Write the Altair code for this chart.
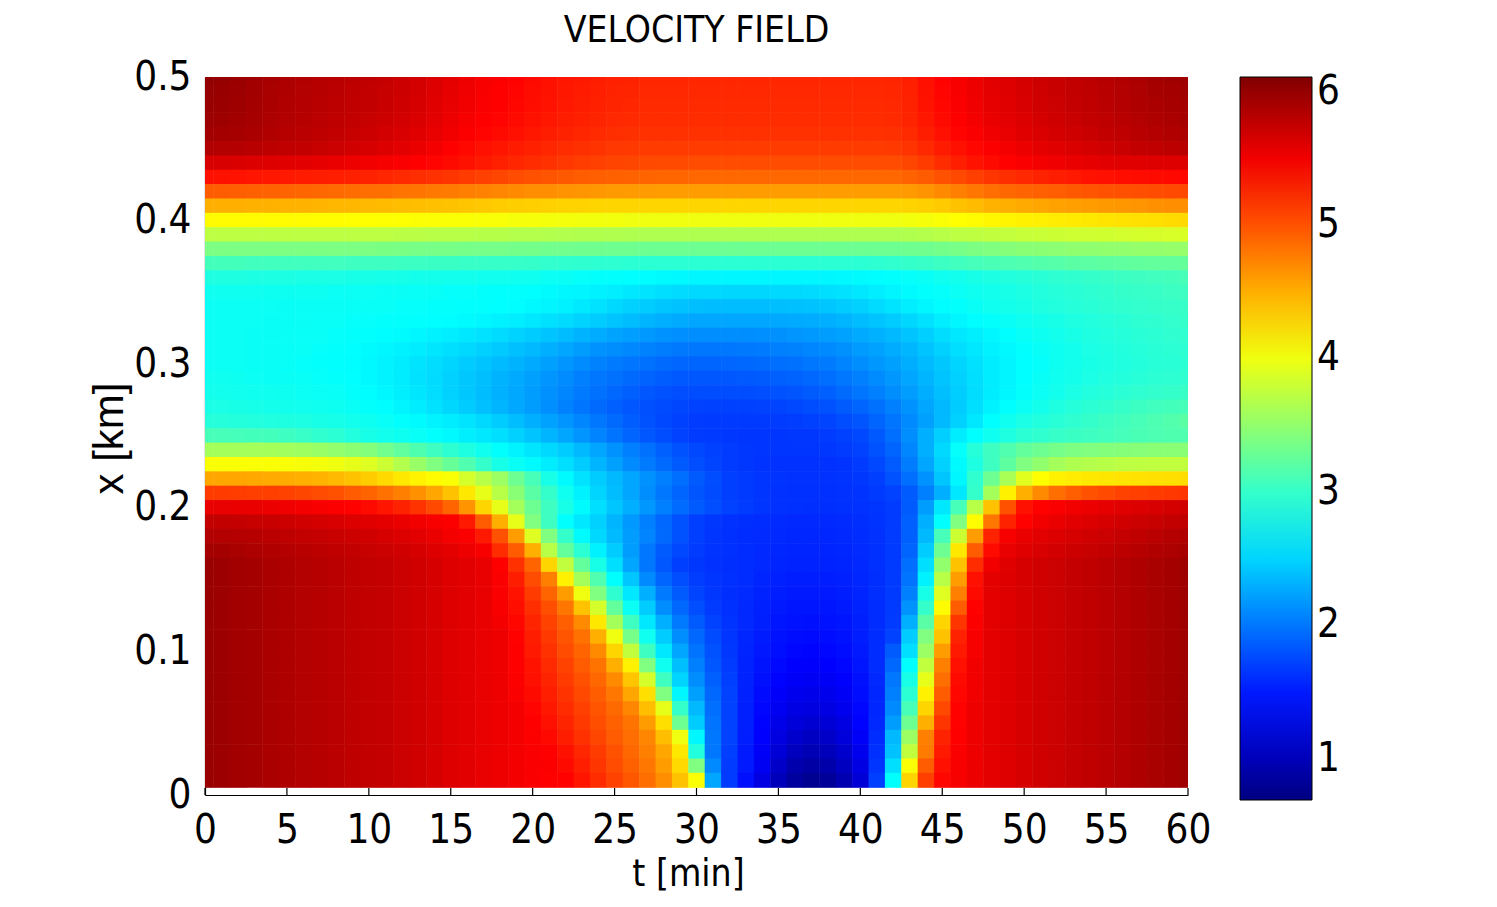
import altair as alt
import pandas as pd

# ---------------- data ----------------
t_minutes = list(range(61))          # grid columns, t = 0 .. 60 min
xtick_values = [0, 5, 10, 15, 20, 25, 30, 35, 40, 45, 50, 55, 60]
ytick_values = [0, 0.1, 0.2, 0.3, 0.4, 0.5]
cbar_ticks = [1, 2, 3, 4, 5, 6]

# recurring stretches of the lower red zones (left: t=0..21, right: t=48..60)
D = [5.98,5.96,5.93,5.91,5.88,5.86,5.84,5.82,5.8,5.78,5.76,5.74,5.71,5.68,5.65,5.61,5.58,5.55,5.52,5.49,5.46,5.44]
E = [5.57,5.61,5.65,5.68,5.71,5.74,5.77,5.8,5.83,5.86,5.89,5.92,5.95]

v50 = [6.02,6.0,5.97,5.94,5.9,5.87,5.85,5.83,5.81,5.79,5.77,5.74,5.71,5.67,5.62,5.57,5.52,5.48,5.45,5.42,5.38,5.35,5.32,5.3,5.28,5.26,5.25] + [5.23]*15 + [5.24,5.27,5.35,5.42,5.48,5.53,5.58,5.62,5.66,5.7,5.73,5.76,5.79,5.82,5.85,5.88,5.91,5.94,5.96]
v49 = [6.0,5.98,5.96,5.93,5.89,5.86,5.84,5.82,5.8,5.78,5.76,5.73,5.7,5.66,5.61,5.56,5.51,5.47,5.44,5.41,5.37,5.34,5.31,5.29,5.27,5.25,5.24] + [5.22]*15 + [5.23,5.26,5.34,5.41,5.47,5.52,5.57,5.61,5.65,5.69,5.72,5.75,5.78,5.81,5.84,5.87,5.9,5.92,5.94]
v48 = [5.98,5.97,5.95,5.92,5.88,5.85,5.83,5.81,5.79,5.77,5.75,5.72,5.69,5.65,5.6,5.55,5.5,5.46,5.43,5.4,5.36,5.33,5.3,5.28,5.26,5.24,5.23] + [5.21]*15 + [5.22,5.25,5.33,5.4,5.46,5.51,5.56,5.6,5.64,5.68,5.71,5.74,5.77,5.8,5.83,5.86,5.88,5.9,5.92]
v47 = [5.96,5.95,5.93,5.9,5.87,5.84,5.82,5.8,5.78,5.76,5.73,5.7,5.67,5.63,5.58,5.53,5.48,5.44,5.41,5.38,5.34,5.31,5.28,5.26,5.24,5.22,5.21] + [5.2]*15 + [5.21,5.24,5.31,5.38,5.44,5.49,5.54,5.58,5.62,5.66,5.69,5.72,5.75,5.78,5.81,5.84,5.86,5.88,5.9]
v46 = [5.93,5.92,5.9,5.88,5.85,5.82,5.8,5.78,5.76,5.73,5.7,5.67,5.64,5.6,5.55,5.5,5.45,5.41,5.38,5.35,5.31,5.28,5.25,5.23,5.21,5.19,5.18] + [5.17]*15 + [5.18,5.21,5.28,5.35,5.41,5.46,5.51,5.55,5.59,5.63,5.66,5.69,5.72,5.75,5.78,5.81,5.83,5.85,5.87]
v45 = [5.85,5.84,5.83,5.81,5.79,5.77,5.75,5.73,5.71,5.68,5.65,5.62,5.58,5.54,5.49,5.44,5.39,5.35,5.32,5.29,5.26,5.23,5.2,5.18,5.16,5.14,5.13] + [5.12]*15 + [5.13,5.16,5.22,5.29,5.35,5.4,5.45,5.49,5.53,5.57,5.6,5.63,5.66,5.69,5.72,5.75,5.77,5.79,5.81]
v44 = [5.65,5.64,5.63,5.62,5.61,5.6,5.58,5.56,5.54,5.52, 5.5,5.48,5.46,5.43,5.41,5.38,5.34,5.3,5.26,5.23, 5.2,5.17,5.14,5.11,5.09,5.07,5.06,5.05,5.04,5.04, 5.03,5.03,5.03,5.03,5.03,5.03,5.03,5.03,5.03,5.03, 5.03,5.03,5.03,5.06,5.12,5.2,5.27,5.33,5.38,5.42, 5.46,5.49,5.51,5.54,5.56,5.58,5.59,5.6,5.61,5.61, 5.62]
v43 = [5.35,5.34,5.33,5.32,5.31,5.3,5.29,5.28,5.27,5.26, 5.25,5.23,5.21,5.19,5.17,5.15,5.12,5.09,5.06,5.03, 5.0,4.98,4.96,4.94,4.93,4.92,4.91,4.9,4.89,4.89, 4.88,4.88,4.88,4.88,4.88,4.88,4.88,4.88,4.88,4.88, 4.88,4.88,4.88,4.91,4.95,5.0,5.05,5.1,5.15,5.19, 5.22,5.25,5.28,5.3,5.33,5.35,5.36,5.37,5.38,5.39, 5.4]
v42 = [4.95,4.94,4.93,4.92,4.91,4.9,4.89,4.88,4.87,4.86, 4.85,4.84,4.82,4.81,4.79,4.78,4.76,4.74,4.72,4.7, 4.68,4.67,4.65,4.64,4.63,4.62,4.61,4.61,4.6,4.6, 4.6,4.6,4.6,4.6,4.6,4.6,4.6,4.6,4.6,4.6, 4.6,4.6,4.6,4.62,4.65,4.7,4.75,4.8,4.85,4.88, 4.9,4.92,4.94,4.96,4.98,5.0,5.01,5.02,5.03,5.04, 5.05]
v41 = [4.5,4.5,4.5,4.49,4.49,4.48,4.48,4.47,4.46,4.46, 4.45,4.44,4.43,4.42,4.41,4.4,4.38,4.37,4.35,4.34, 4.33,4.32,4.31,4.31,4.3,4.3,4.3,4.3,4.3,4.3, 4.3,4.3,4.3,4.3,4.3,4.3,4.3,4.3,4.3,4.3, 4.3,4.3,4.3,4.31,4.33,4.36,4.4,4.44,4.48,4.5, 4.53,4.55,4.57,4.59,4.6,4.62,4.63,4.64,4.66,4.67, 4.68]
v40 = [4.1,4.1,4.1,4.1,4.1,4.1,4.1,4.09,4.09,4.08, 4.08,4.07,4.07,4.06,4.06,4.05,4.05,4.04,4.04,4.03, 4.03,4.02,4.02,4.01,4.01,4.01,4.0,4.0,4.0,4.0, 4.0,4.0,4.0,4.0,4.0,4.0,4.0,4.0,4.0,4.0, 4.0,4.0,4.0,4.01,4.03,4.05,4.08,4.1,4.12,4.13, 4.15,4.16,4.18,4.19,4.2,4.22,4.23,4.24,4.25,4.27, 4.28]
v39 = [3.72,3.72,3.72,3.72,3.72,3.72,3.72,3.72,3.72,3.72, 3.72,3.72,3.71,3.71,3.7,3.7,3.7,3.69,3.69,3.68, 3.68,3.67,3.67,3.66,3.66,3.66,3.65,3.65,3.65,3.65, 3.65,3.65,3.65,3.65,3.65,3.65,3.65,3.65,3.65,3.65, 3.65,3.65,3.65,3.66,3.68,3.7,3.72,3.73,3.75,3.76, 3.78,3.79,3.8,3.81,3.82,3.83,3.84,3.85,3.86,3.87, 3.88]
v38 = [3.38,3.38,3.38,3.38,3.38,3.38,3.38,3.38,3.38,3.38, 3.38,3.37,3.37,3.36,3.36,3.36,3.35,3.35,3.35,3.34, 3.34,3.33,3.33,3.32,3.32,3.31,3.31,3.3,3.3,3.3, 3.3,3.3,3.3,3.3,3.3,3.3,3.3,3.3,3.3,3.3, 3.3,3.3,3.3,3.31,3.32,3.34,3.36,3.38,3.4,3.43, 3.45,3.46,3.47,3.48,3.49,3.5,3.5,3.51,3.51,3.52, 3.52]
v37 = [3.08,3.08,3.08,3.07,3.07,3.07,3.06,3.06,3.06,3.05, 3.05,3.05,3.04,3.04,3.03,3.03,3.02,3.02,3.01,3.01, 3.0,2.99,2.98,2.97,2.96,2.96,2.95,2.95,2.95,2.95, 2.95,2.95,2.95,2.95,2.95,2.95,2.95,2.95,2.95,2.95, 2.95,2.96,2.98,3.0,3.02,3.04,3.06,3.09,3.11,3.13, 3.15,3.17,3.18,3.2,3.21,3.22,3.23,3.24,3.25,3.25, 3.26]
v36 = [2.88,2.88,2.88,2.87,2.87,2.87,2.86,2.86,2.86,2.85, 2.85,2.84,2.84,2.83,2.83,2.82,2.82,2.81,2.81,2.8, 2.8,2.78,2.77,2.75,2.74,2.73,2.72,2.71,2.7,2.69, 2.68,2.68,2.68,2.68,2.68,2.68,2.68,2.68,2.68,2.69, 2.7,2.71,2.73,2.75,2.77,2.8,2.82,2.85,2.87,2.9, 2.92,2.94,2.96,2.98,3.0,3.02,3.04,3.05,3.07,3.08, 3.1]
v35 = [2.8,2.8,2.8,2.8,2.79,2.79,2.79,2.79,2.78,2.78, 2.78,2.77,2.77,2.76,2.76,2.75,2.75,2.74,2.73,2.73, 2.72,2.7,2.68,2.67,2.65,2.63,2.6,2.58,2.55,2.53, 2.52,2.52,2.51,2.51,2.51,2.52,2.52,2.53,2.55,2.57, 2.6,2.63,2.67,2.7,2.73,2.75,2.78,2.8,2.82,2.85, 2.87,2.9,2.92,2.94,2.96,2.98,3.0,3.01,3.02,3.04, 3.05]
v34 = [2.78,2.78,2.78,2.78,2.78,2.77,2.77,2.77,2.77,2.76, 2.76,2.76,2.75,2.75,2.74,2.74,2.73,2.73,2.72,2.71, 2.69,2.67,2.65,2.61,2.57,2.52,2.48,2.45,2.42,2.4, 2.38,2.37,2.37,2.37,2.37,2.38,2.39,2.4,2.42,2.45, 2.48,2.53,2.58,2.63,2.68,2.71,2.74,2.77,2.8,2.83, 2.85,2.88,2.9,2.92,2.94,2.96,2.98,2.99,3.0,3.01, 3.02]
v33 = [2.78,2.78,2.78,2.78,2.77,2.77,2.77,2.76,2.76,2.75, 2.75,2.74,2.74,2.73,2.72,2.71,2.7,2.68,2.65,2.63, 2.6,2.56,2.53,2.49,2.45,2.41,2.37,2.33,2.3,2.27, 2.25,2.25,2.25,2.25,2.25,2.26,2.27,2.28,2.3,2.33, 2.37,2.41,2.45,2.51,2.57,2.63,2.68,2.71,2.74,2.77, 2.8,2.83,2.85,2.88,2.9,2.92,2.94,2.96,2.97,2.99, 3.0]
v32 = [2.78,2.78,2.78,2.77,2.77,2.77,2.76,2.76,2.75,2.74, 2.73,2.71,2.7,2.68,2.65,2.63,2.6,2.57,2.53,2.49, 2.45,2.41,2.37,2.32,2.28,2.24,2.21,2.18,2.15,2.13, 2.12,2.12,2.12,2.12,2.13,2.14,2.16,2.18,2.2,2.23, 2.27,2.31,2.35,2.41,2.47,2.54,2.6,2.64,2.68,2.72, 2.76,2.79,2.82,2.85,2.88,2.9,2.92,2.94,2.95,2.97, 2.98]
v31 = [2.78,2.78,2.78,2.77,2.77,2.76,2.76,2.75,2.74,2.72, 2.7,2.68,2.65,2.62,2.59,2.55,2.52,2.48,2.44,2.39, 2.35,2.3,2.25,2.2,2.15,2.12,2.09,2.06,2.03,2.01, 2.0,2.0,2.0,2.01,2.02,2.04,2.06,2.08,2.1,2.14, 2.19,2.23,2.28,2.34,2.41,2.48,2.55,2.6,2.65,2.69, 2.73,2.76,2.79,2.82,2.86,2.88,2.9,2.92,2.94,2.95, 2.96]
v30 = [2.78,2.78,2.78,2.77,2.77,2.76,2.75,2.74,2.73,2.71, 2.69,2.66,2.62,2.58,2.54,2.5,2.45,2.41,2.36,2.32, 2.27,2.22,2.16,2.11,2.06,2.02,1.99,1.96,1.93,1.91, 1.9,1.9,1.91,1.92,1.93,1.95,1.97,2.0,2.02,2.07, 2.12,2.17,2.22,2.29,2.36,2.43,2.5,2.56,2.62,2.67, 2.72,2.75,2.79,2.82,2.85,2.87,2.89,2.91,2.93,2.94, 2.95]
v29 = [2.8,2.8,2.79,2.78,2.77,2.77,2.76,2.75,2.74,2.72, 2.69,2.66,2.62,2.57,2.53,2.48,2.43,2.38,2.32,2.27, 2.22,2.16,2.11,2.05,2.0,1.96,1.93,1.89,1.86,1.84, 1.83,1.83,1.83,1.84,1.85,1.87,1.89,1.92,1.95,2.0, 2.05,2.11,2.17,2.25,2.33,2.41,2.48,2.55,2.62,2.67, 2.72,2.76,2.8,2.83,2.86,2.89,2.91,2.93,2.95,2.96, 2.97]
v28 = [2.82,2.82,2.81,2.8,2.8,2.79,2.78,2.77,2.76,2.74, 2.71,2.68,2.64,2.59,2.54,2.48,2.43,2.37,2.31,2.26, 2.2,2.14,2.08,2.02,1.96,1.92,1.87,1.83,1.8,1.78, 1.77,1.77,1.77,1.77,1.78,1.8,1.82,1.85,1.88,1.93, 1.99,2.05,2.12,2.2,2.29,2.38,2.46,2.54,2.62,2.68, 2.74,2.78,2.82,2.86,2.9,2.92,2.95,2.97,2.99,3.0, 3.02]
v27 = [2.86,2.86,2.85,2.84,2.83,2.82,2.81,2.8,2.79,2.77, 2.74,2.71,2.67,2.62,2.57,2.51,2.45,2.39,2.33,2.26, 2.2,2.13,2.06,1.99,1.93,1.88,1.83,1.79,1.76,1.74, 1.72,1.71,1.71,1.71,1.72,1.73,1.75,1.77,1.8,1.85, 1.9,1.97,2.05,2.15,2.25,2.35,2.45,2.55,2.65,2.72, 2.78,2.83,2.88,2.92,2.95,2.98,3.01,3.04,3.06,3.08, 3.1]
v26 = [2.92,2.92,2.91,2.9,2.89,2.88,2.87,2.85,2.84,2.82, 2.79,2.76,2.73,2.7,2.66,2.62,2.58,2.52,2.45,2.37, 2.3,2.23,2.16,2.08,2.0,1.93,1.86,1.8,1.75,1.71, 1.68,1.67,1.67,1.67,1.67,1.68,1.69,1.71,1.73,1.77, 1.82,1.9,1.99,2.1,2.22,2.35,2.48,2.6,2.72,2.8, 2.86,2.9,2.94,2.97,3.0,3.04,3.07,3.1,3.13,3.16, 3.2]
v25 = [3.1,3.1,3.09,3.08,3.08,3.05,3.02,2.98,2.95,2.9, 2.85,2.82,2.79,2.76,2.73,2.69,2.64,2.6,2.55,2.48, 2.41,2.33,2.25,2.16,2.07,1.98,1.9,1.83,1.77,1.72, 1.68,1.67,1.66,1.65,1.65,1.65,1.66,1.66,1.68,1.71, 1.75,1.84,1.95,2.12,2.3,2.47,2.62,2.72,2.8,2.88, 2.95,2.98,3.01,3.03,3.05,3.07,3.09,3.11,3.13,3.14, 3.15]
v24 = [3.6,3.6,3.6,3.6,3.6,3.58,3.56,3.53,3.5,3.46, 3.42,3.33,3.24,3.14,3.05,2.96,2.88,2.8,2.73,2.66, 2.59,2.52,2.45,2.35,2.25,2.15,2.05,1.96,1.88,1.8, 1.75,1.71,1.68,1.66,1.65,1.65,1.65,1.65,1.66,1.68, 1.72,1.8,1.9,2.08,2.3,2.52,2.75,2.92,3.05,3.15, 3.25,3.3,3.35,3.38,3.4,3.42,3.43,3.44,3.45,3.45, 3.45]
v23 = [4.05,4.05,4.05,4.05,4.05,4.04,4.03,4.02,4.0,3.95, 3.9,3.8,3.67,3.53,3.4,3.27,3.15,3.0,2.85,2.77, 2.7,2.62,2.55,2.45,2.33,2.22,2.1,2.02,1.93,1.85, 1.78,1.73,1.68,1.66,1.64,1.63,1.63,1.63,1.63,1.64, 1.68,1.75,1.85,2.03,2.25,2.48,2.7,2.88,3.05,3.22, 3.4,3.5,3.6,3.65,3.68,3.7,3.72,3.73,3.74,3.75, 3.75]
v22 = [4.55,4.55,4.55,4.54,4.53,4.52,4.5,4.48,4.45,4.4, 4.35,4.28,4.2,4.14,4.1,4.05,3.85,3.7,3.55,3.3, 3.1,2.85,2.7,2.57,2.45,2.35,2.25,2.15,2.05,1.95, 1.85,1.77,1.7,1.67,1.65,1.64,1.63,1.63,1.63,1.64, 1.66,1.7,1.8,1.95,2.15,2.42,2.68,2.98,3.3,3.62, 3.92,4.08,4.15,4.18,4.2,4.21,4.22,4.23,4.24,4.25, 4.26]
v21 = [5.12,5.12,5.11,5.1,5.1,5.08,5.06,5.03,5.0,4.95, 4.9,4.83,4.75,4.66,4.55,4.4,4.2,3.95,3.7,3.45, 3.2,3.0,2.8,2.65,2.5,2.37,2.25,2.12,2.0,1.9, 1.82,1.76,1.7,1.67,1.65,1.63,1.62,1.62,1.62,1.63, 1.64,1.67,1.72,1.85,2.05,2.3,2.6,3.0,3.6,4.15, 4.5,4.7,4.85,4.93,5.0,5.04,5.08,5.1,5.12,5.14, 5.15]
v20 = [5.55,5.55,5.54,5.54,5.53,5.51,5.49,5.47,5.45,5.42, 5.38,5.32,5.25,5.16,5.05,4.9,4.65,4.3,3.95,3.6, 3.3,3.05,2.85,2.7,2.55,2.42,2.3,2.17,2.05,1.94, 1.85,1.78,1.72,1.68,1.65,1.63,1.62,1.61,1.61,1.62, 1.63,1.65,1.68,1.85,2.2,2.6,3.1,3.7,4.4,5.0, 5.35,5.42,5.46,5.5,5.53,5.56,5.59,5.62,5.64,5.66, 5.68]
v19 = [5.75,5.75,5.74,5.73,5.72,5.7,5.68,5.66,5.64,5.62,5.6,5.57,5.54,5.5,5.47] + [5.45,5.3,4.95,4.5,3.95,3.4,3.05,2.73,2.6,2.48, 2.33,2.18,2.05,1.92,1.8,1.7,1.66,1.63,1.61,1.6, 1.59,1.58,1.58,1.58,1.59,1.61,1.64,1.68,1.88,2.3, 2.73,3.4,4.1,4.8,5.25,5.42] + [5.5,5.54,5.58,5.62,5.65,5.68,5.71,5.73,5.75,5.77]
v18 = [5.85,5.84,5.83,5.82,5.8,5.78,5.76,5.74,5.72,5.7,5.68,5.65,5.62,5.58,5.54,5.49] + [5.46,5.3,5.0,4.6,3.9,3.4,3.0,2.7,2.52,2.36, 2.2,2.07,1.93,1.8,1.7,1.65,1.62,1.6,1.59,1.58, 1.57,1.57,1.57,1.58,1.6,1.63,1.68,1.88,2.35,3.1,3.8,4.6] + [5.25,5.48,5.54,5.58,5.62,5.65,5.68,5.71,5.74,5.77,5.8,5.83,5.85]
v17 = [5.92,5.91,5.89,5.87,5.85,5.83,5.81,5.79,5.77,5.75,5.73,5.71,5.68,5.65,5.61,5.57,5.52] + [5.47,5.2,4.95,4.5,3.7,3.25,2.95,2.65,2.45,2.2, 2.0,1.85,1.75,1.68,1.64,1.62,1.6,1.58,1.57,1.56, 1.56,1.56,1.57,1.59,1.62,1.67,1.9,2.45,3.3,4.2,4.95] + [5.38,5.55,5.6,5.64,5.67,5.7,5.73,5.76,5.79,5.82,5.85,5.87,5.9]
v16 = D[:18] + [5.43,5.17,4.9,4.3,3.75,3.25,2.85,2.55,2.25,2.0, 1.83,1.7,1.66,1.63,1.61,1.6,1.58,1.56,1.55,1.55, 1.55,1.56,1.58,1.62,1.67,1.95,2.55,3.5,4.4,5.2] + [5.5,5.6,5.65,5.68,5.71,5.74,5.77,5.8,5.83,5.86,5.89,5.92,5.95]
v15 = D[:18] + [5.46,5.28,5.03,4.75,4.15,3.6,3.15,2.73,2.42,2.1, 1.9,1.78,1.69,1.65,1.62,1.6,1.56,1.54,1.52,1.52, 1.52,1.54,1.57,1.61,1.67,1.98,2.65,3.7,4.6,5.35] + E
v14 = D[:18] + [5.46,5.33,5.12,4.9,4.6,4.0,3.4,2.97,2.6,2.3, 2.02,1.85,1.73,1.66,1.61,1.59,1.55,1.52,1.5,1.5, 1.5,1.52,1.56,1.61,1.67,2.05,2.85,3.9,4.75,5.38] + E
v13 = D[:18] + [5.47,5.36,5.19,5.02,4.8,4.4,3.85,3.25,2.78,2.45, 2.12,1.92,1.78,1.68,1.62,1.58,1.54,1.5,1.48,1.48, 1.48,1.5,1.55,1.6,1.67,2.15,3.0,4.1,4.95,5.42] + E
v12 = D[:18] + [5.49,5.4,5.24,5.08,4.93,4.7,4.2,3.6,3.05,2.6, 2.3,2.02,1.85,1.72,1.64,1.58,1.53,1.48,1.46,1.45, 1.46,1.48,1.53,1.6,1.68,2.3,3.2,4.3,5.15,5.45] + E
v11 = D[:19] + [5.42,5.28,5.13,4.98,4.83,4.5,4.0,3.35,2.8,2.45, 2.12,1.92,1.76,1.65,1.57,1.51,1.46,1.43,1.42,1.43, 1.46,1.52,1.6,1.72,2.45,3.4,4.4,5.25,5.47] + E
v10 = D[:19] + [5.43,5.3,5.17,5.03,4.9,4.7,4.3,3.75,3.05,2.6, 2.25,1.98,1.8,1.66,1.56,1.49,1.44,1.4,1.39,1.4, 1.43,1.5,1.6,1.85,2.55,3.55,4.6,5.3,5.48] + E
v09 = D[:19] + [5.44,5.33,5.21,5.08,4.95,4.82,4.5,4.15,3.4,2.8, 2.38,2.05,1.83,1.68,1.55,1.47,1.41,1.37,1.35,1.36, 1.4,1.48,1.6,1.92,2.73,3.75,4.75,5.35,5.5] + E
v08 = D[:19] + [5.45,5.35,5.24,5.12,5.0,4.88,4.7,4.38,3.85,3.05, 2.5,2.12,1.88,1.7,1.55,1.45,1.38,1.33,1.31,1.32, 1.36,1.45,1.58,2.0,2.85,3.95,4.85,5.38,5.5] + E
v07 = D[:19] + [5.46,5.38,5.27,5.16,5.05,4.94,4.8,4.55,4.25,3.4, 2.68,2.22,1.92,1.72,1.54,1.42,1.34,1.28,1.26,1.27, 1.32,1.43,1.57,2.05,2.95,4.15,4.95,5.4,5.5] + E
v06 = D[:20] + [5.41,5.31,5.2,5.09,4.98,4.87,4.72,4.42,3.95,3.0, 2.35,1.95,1.72,1.53,1.4,1.3,1.23,1.2,1.22,1.28, 1.4,1.57,2.1,3.1,4.3,5.05,5.42,5.52] + E
v05 = D[:20] + [5.44,5.35,5.24,5.13,5.02,4.92,4.82,4.6,4.25,3.3, 2.45,1.98,1.72,1.53,1.38,1.25,1.17,1.13,1.15,1.22, 1.38,1.58,2.2,3.3,4.5,5.15,5.42,5.52] + E
v04 = D[:20] + [5.45,5.39,5.28,5.17,5.06,4.95,4.85,4.72,4.42,4.0, 2.68,2.0,1.72,1.52,1.36,1.2,1.1,1.05,1.08,1.17, 1.33,1.6,2.35,3.55,4.75,5.25,5.44,5.52] + E
v03 = D[:21] + [5.43,5.34,5.23,5.12,5.0,4.88,4.76,4.55,4.2,2.9, 2.0,1.7,1.5,1.33,1.15,1.02,0.97,1.0,1.1,1.28, 1.62,2.4,3.75,4.78,5.3,5.46,5.52] + E
v02 = D[:21] + [5.45,5.38,5.27,5.15,5.03,4.92,4.8,4.6,4.28,3.4, 2.1,1.68,1.5,1.3,1.08,0.93,0.88,0.92,1.03,1.22, 1.65,2.55,4.05,4.95,5.35,5.47,5.53] + E
v01 = D[:22] + [5.42,5.32,5.2,5.08,4.97,4.85,4.68,4.4,4.05,2.25, 1.68,1.45,1.22,1.0,0.85,0.78,0.82,0.95,1.15,1.7, 2.73,4.3,5.1,5.4,5.48,5.53] + E

x_levels = [0.50,0.49,0.48,0.47,0.46,0.45,0.44,0.43,0.42,0.41,0.40,0.39,0.38,0.37,0.36,0.35,0.34,0.33,0.32,0.31,
            0.30,0.29,0.28,0.27,0.26,0.25,0.24,0.23,0.22,0.21,0.20,0.19,0.18,0.17,0.16,0.15,0.14,0.13,0.12,0.11,
            0.10,0.09,0.08,0.07,0.06,0.05,0.04,0.03,0.02,0.01]
rows = [v50,v49,v48,v47,v46,v45,v44,v43,v42,v41,v40,v39,v38,v37,v36,v35,v34,v33,v32,v31,
        v30,v29,v28,v27,v26,v25,v24,v23,v22,v21,v20,v19,v18,v17,v16,v15,v14,v13,v12,v11,
        v10,v09,v08,v07,v06,v05,v04,v03,v02,v01]

records = []
for xk, vals in zip(x_levels, rows):
    if len(vals) != len(t_minutes):
        raise ValueError(f"row x={xk} has {len(vals)} values")
    for t, v in zip(t_minutes, vals):
        records.append({"t": t, "x": xk, "v": v})
field = pd.DataFrame(records)
ticks_df = pd.DataFrame({"t0": xtick_values})

# ---------------- styling ----------------
NARROW = "Noto Sans Condensed, Liberation Sans Narrow, DejaVu Sans Condensed, sans-serif"
REGULAR = "Liberation Sans, Arial, sans-serif"
LABEL_SIZE = 40

# MATLAB "jet" colour map over the colour-bar range
jet_domain = [0.69, 1.3675, 2.7225, 4.0775, 5.4325, 6.11]
jet_colors = ["#000080", "#0000ff", "#00ffff", "#ffff00", "#ff0000", "#800000"]
color_scale = alt.Scale(domain=jet_domain, range=jet_colors, interpolate="rgb")

W, H = 983, 718

xscale = alt.Scale(domain=[0, 60], nice=False, zero=False)
yscale = alt.Scale(domain=[0, 0.5], nice=False, zero=False)

x_axis = alt.Axis(values=xtick_values, format="d", grid=False, tickSize=0,
                  labelFont=NARROW, labelFontSize=LABEL_SIZE, labelColor="black",
                  labelPadding=15, labelFlush=False, labelOverlap=False,
                  domainColor="black", domainWidth=1.2,
                  titleFont=NARROW, titleFontSize=37, titleFontWeight="normal",
                  titleColor="black", titleX=483, titleY=90,
                  titleBaseline="alphabetic", titleAlign="center")
y_axis = alt.Axis(values=ytick_values, format=".1~f", grid=False, tickSize=0,
                  labelFont=NARROW, labelFontSize=LABEL_SIZE, labelColor="black",
                  labelPadding=14, labelFlush=False, labelOverlap=False,
                  domainColor="black", domainWidth=1.2,
                  titleFont=REGULAR, titleFontSize=42, titleFontWeight="normal",
                  titleColor="black", titleAngle=270, titleX=-96, titleY=361,
                  titleBaseline="middle", titleAlign="center")

# cells overlap their neighbours by a fraction of a pixel so that no seams show
heat = alt.Chart(field).transform_calculate(
    t0="datum.t - 0.5", t1="datum.t + 0.53",
    x0="datum.x - 0.005", x1="datum.x + 0.0054",
).mark_rect(clip=True).encode(
    x=alt.X("t0:Q", scale=xscale, title="t [min]", axis=x_axis),
    x2="t1:Q",
    y=alt.Y("x0:Q", scale=yscale, title="x [km]", axis=y_axis),
    y2="x1:Q",
    color=alt.Color("v:Q", scale=color_scale,
                    legend=alt.Legend(type="gradient", orient="none", legendX=1035, legendY=0,
                                      direction="vertical", title=None,
                                      gradientLength=723, gradientThickness=72,
                                      gradientStrokeColor="black", gradientStrokeWidth=1,
                                      values=cbar_ticks, format="d",
                                      labelFont=NARROW, labelFontSize=LABEL_SIZE, labelColor="black",
                                      labelOffset=5, padding=0, offset=0)),
)

# inward tick marks on the bottom axis (MATLAB style)
ticks = alt.Chart(ticks_df).mark_rule(color="black", strokeWidth=1.2).encode(
    x=alt.X("t0:Q", scale=xscale, title="t [min]", axis=x_axis),
    y=alt.value(H),
    y2=alt.value(H - 7),
)

chart = alt.layer(heat, ticks).properties(
    width=W, height=H,
    title=alt.TitleParams("VELOCITY FIELD", font=NARROW, fontSize=37, fontWeight="normal",
                          color="black", anchor="middle", frame="group", offset=7),
    autosize=alt.AutoSizeParams(type="none"),
    padding={"left": 197, "top": 69, "right": 270, "bottom": 99},
    background="white",
).configure_view(strokeWidth=0).configure_legend(
    gradientVerticalMaxLength=800, gradientVerticalMinLength=100
)

chart.save("out.html", embed_options={"renderer": "svg", "actions": False})
